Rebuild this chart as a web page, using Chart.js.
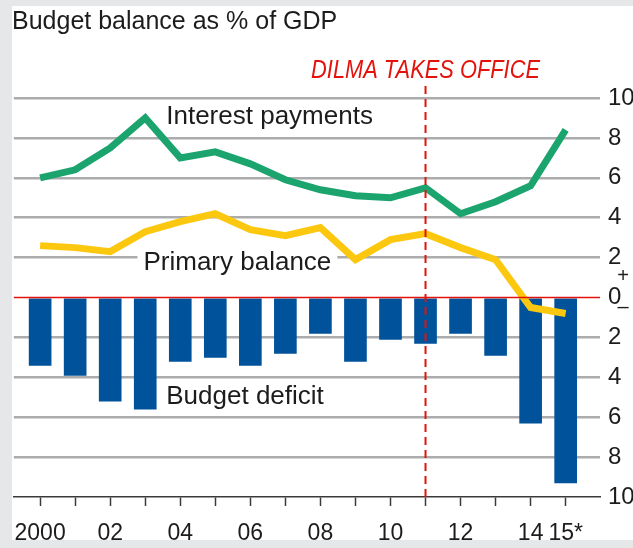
<!DOCTYPE html>
<html>
<head>
<meta charset="utf-8">
<script src="https://cdn.jsdelivr.net/npm/chart.js@4.4.1/dist/chart.umd.min.js"></script>
<style>
  html, body { margin: 0; padding: 0; background: #e6e7e9; }
  #wrap { position: relative; width: 633px; height: 548px; }
</style>
</head>
<body>
<div id="wrap"><canvas id="chartBudget"></canvas></div>
<script>
// --- data (% of GDP) ---
const years = [2000, 2001, 2002, 2003, 2004, 2005, 2006, 2007, 2008, 2009, 2010, 2011, 2012, 2013, 2014, 2015];
const yearLabels = ['2000', '', '02', '', '04', '', '06', '', '08', '', '10', '', '12', '', '14', '15*'];
const budgetDeficit = [-3.4, -3.9, -5.2, -5.6, -3.2, -3.0, -3.4, -2.8, -1.8, -3.2, -2.1, -2.3, -1.8, -2.9, -6.3, -9.3];
const interestPayments = [6.0, 6.4, 7.5, 9.0, 7.0, 7.3, 6.7, 5.9, 5.4, 5.1, 5.0, 5.5, 4.2, 4.8, 5.6, 8.4];
const primaryBalance = [2.6, 2.5, 2.3, 3.3, 3.8, 4.2, 3.4, 3.1, 3.5, 1.9, 2.9, 3.2, 2.5, 1.9, -0.5, -0.8];
const yTicks = [-10, -8, -6, -4, -2, 0, 2, 4, 6, 8, 10];
const officeYear = 2011;

const FONT = '"Liberation Sans", Arial, sans-serif';
const cGrid = '#abacae';
const cRed = '#e3120b';
const cText = '#1c1c1c';

// series labels placed in data units
const seriesLabels = [
  { text: 'Interest payments', x: 2003.6, y: 9.05, box: false },
  { text: 'Primary balance', x: 2002.95, y: 1.75, box: true },
  { text: 'Budget deficit', x: 2003.6, y: -5.0, box: false }
];

const decor = {
  id: 'decor',
  beforeDraw(chart) {
    const c = chart.ctx;
    c.save();
    c.fillStyle = '#e6e7e9';
    c.fillRect(0, 0, chart.width, chart.height);
    c.fillStyle = '#ffffff';
    c.fillRect(12, 6, chart.width - 12, 534);
    // title
    c.fillStyle = cText;
    c.font = '25px ' + FONT;
    c.textBaseline = 'alphabetic';
    c.fillText('Budget balance as % of GDP', 12, 29);
    c.restore();
  },
  afterDatasetsDraw(chart) {
    const c = chart.ctx;
    const area = chart.chartArea;
    const x = chart.scales.x, y = chart.scales.y;
    c.save();
    // zero line
    const y0 = y.getPixelForValue(0);
    c.strokeStyle = cRed;
    c.lineWidth = 1.5;
    c.beginPath();
    c.moveTo(area.left, y0);
    c.lineTo(area.right, y0);
    c.stroke();
    // Dilma line
    const xd = x.getPixelForValue(officeYear);
    c.lineWidth = 2;
    c.setLineDash([8, 5]);
    c.beginPath();
    c.moveTo(xd, area.top - 12);
    c.lineTo(xd, area.bottom);
    c.stroke();
    c.setLineDash([]);
    c.fillStyle = cRed;
    c.font = 'italic 26px ' + FONT;
    c.textAlign = 'center';
    c.textBaseline = 'alphabetic';
    c.save();
    c.translate(xd, 78);
    c.scale(0.84, 1);
    c.fillText('DILMA TAKES OFFICE', 0, 0);
    c.restore();

    // series labels
    c.font = '26px ' + FONT;
    c.textAlign = 'left';
    c.textBaseline = 'middle';
    seriesLabels.forEach(l => {
      const px = x.getPixelForValue(l.x);
      const py = y.getPixelForValue(l.y);
      const w = c.measureText(l.text).width;
      if (l.box) {
        c.fillStyle = '#ffffff';
        c.fillRect(px - 6, py - 14, w + 12, 28);
      }
      c.fillStyle = cText;
      c.fillText(l.text, px, py);
    });

    // +/- marks by the zero label
    c.font = '20px ' + FONT;
    c.textAlign = 'center';
    c.fillText('+', 623, 276);
    c.fillText('\u2013', 623, 307);
    c.restore();
  }
};

const ctx = document.getElementById('chartBudget');
const chart = new Chart(ctx, {
  data: {
    datasets: [
      {
        type: 'line',
        label: 'Interest payments',
        data: years.map((yr, i) => ({ x: yr, y: interestPayments[i] })),
        borderColor: '#1ba46e',
        borderWidth: 7,
        pointRadius: 0,
        tension: 0,
        order: 1
      },
      {
        type: 'line',
        label: 'Primary balance',
        data: years.map((yr, i) => ({ x: yr, y: primaryBalance[i] })),
        borderColor: '#fcc70f',
        borderWidth: 7,
        pointRadius: 0,
        tension: 0,
        order: 2
      },
      {
        type: 'bar',
        label: 'Budget deficit',
        data: years.map((yr, i) => ({ x: yr, y: budgetDeficit[i] })),
        backgroundColor: '#00529b',
        barThickness: 22,
        order: 3
      }
    ]
  },
  options: {
    responsive: true,
    maintainAspectRatio: false,
    devicePixelRatio: 1,
    animation: false,
    layout: { padding: { left: 12, top: 98, right: 0, bottom: 8 } },
    plugins: {
      legend: { display: false },
      tooltip: { enabled: false }
    },
    scales: {
      x: {
        type: 'linear',
        offset: false,
        min: 1999.25,
        max: 2015.98,
        afterBuildTicks: s => { s.ticks = years.map(v => ({ value: v })); },
        afterFit: s => { s.height = 43; },
        border: { display: true, color: '#3a3a3a', width: 1.5 },
        grid: { offset: false, drawOnChartArea: false, drawTicks: true, tickLength: 9, color: '#3a3a3a', tickWidth: 1.5 },
        ticks: {
          autoSkip: false,
          maxRotation: 0,
          padding: 14,
          color: cText,
          font: { family: FONT, size: 23 },
          callback: (v, i) => yearLabels[i]
        }
      },
      y: {
        position: 'right',
        min: -10,
        max: 10,
        afterBuildTicks: s => { s.ticks = yTicks.map(v => ({ value: v })); },
        afterFit: s => { s.width = 33; },
        border: { display: false },
        grid: {
          drawTicks: false,
          lineWidth: 2.5,
          color: c => (c.tick && (c.tick.value === 0 || c.tick.value === -10)) ? 'rgba(0,0,0,0)' : cGrid
        },
        ticks: {
          padding: 8,
          color: cText,
          font: { family: FONT, size: 24 },
          callback: v => String(Math.abs(v))
        }
      }
    }
  },
  plugins: [decor]
});
</script>
</body>
</html>
